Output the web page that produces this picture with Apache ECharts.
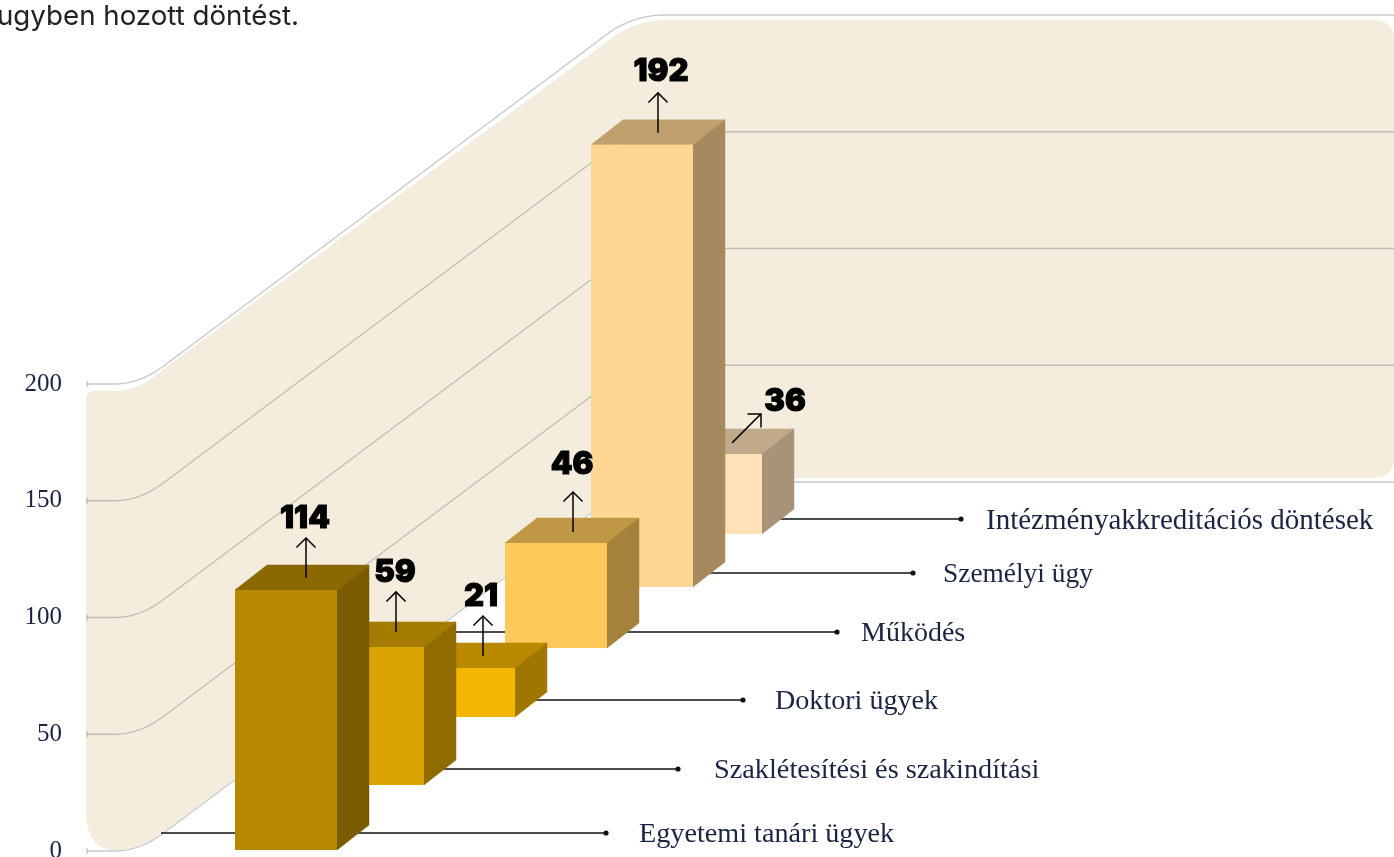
<!DOCTYPE html>
<html>
<head>
<meta charset="utf-8">
<title>Döntések</title>
<script src="https://cdn.jsdelivr.net/npm/echarts@6/dist/echarts.min.js"></script>
<style>
  html, body { margin: 0; padding: 0; background: #fff; overflow: hidden; }
  #chart { width: 1394px; height: 857px; }
</style>
</head>
<body>
<div id="chart"></div>
<script>
// data
var categories = ['Egyetemi tanári ügyek', 'Szaklétesítési és szakindítási', 'Doktori ügyek', 'Működés', 'Személyi ügy', 'Intézményakkreditációs döntések'];
var values = [114, 59, 21, 46, 192, 36];
var yTicks = [0, 50, 100, 150, 200];

// colours
var frontColors = ['#B78900', '#DBA400', '#F4B600', '#FEC85A', '#FFD693', '#FFE1B7'];
var topColors = ['#8C6800', '#A67C00', '#B98A00', '#C09744', '#C1A06F', '#C1AA8A'];
var sideColors = ['#7A5B00', '#8F6B00', '#9F7700', '#A5823B', '#A68A5F', '#A69378'];

// fake 3d layout
var barWidth = 102, depthX = 32, depthY = 25;
var barNudge = [0, 2, 8, 15, 16, 0];            // px, the depth steps are not even
var floorLift = [0.4, 28.3, 57.4, 86.9, 113.1, 135.8];  // floor height in axis units
var foreshorten = [0.977, 1.002, 1, 0.978, 0.986, 0.952];
var leaderEnd = [606, 678, 743, 837, 913, 961];
var leaderRise = [17, 16, 17, 16, 14, 15];
var nameX = [639, 714, 775, 861, 943, 986];
var nameSize = [28.2, 28.3, 28.1, 28, 27.4, 29];
var arrowVec = [[0, -40], [0, -40], [0, -40], [0, -40], [0, -40], [29, -29]];
var arrowX = [71, 74, 70, 68, 67, 72];
var arrowLift = [12, 15, 12, 11, 12, 11];
var labelShift = [[-1, -19], [-1, -19], [-2, -19], [-1, -27], [3, -21], [24, -12]];

var serif = '"Liberation Serif", serif';
var sans = 'Inter, "Open Sans", sans-serif';
var lineColor = 'rgba(130,130,130,0.45)';

function curve(p0, c, p1) {
  var pts = [];
  for (var k = 1; k <= 12; k++) {
    var t = k / 12;
    pts.push([
      (1 - t) * (1 - t) * p0[0] + 2 * t * (1 - t) * c[0] + t * t * p1[0],
      (1 - t) * (1 - t) * p0[1] + 2 * t * (1 - t) * c[1] + t * t * p1[1]
    ]);
  }
  return pts;
}

function renderWall() {
  var pts = [[86, 400]];
  pts = pts.concat(curve([86, 400], [86, 391], [96, 391]));
  pts.push([115, 391]);
  pts = pts.concat(curve([115, 391], [140, 391], [165, 368]));
  pts.push([612, 38]);
  pts = pts.concat(curve([612, 38], [635, 20], [668, 20]));
  pts.push([1372, 20]);
  pts = pts.concat(curve([1372, 20], [1394, 20], [1394, 40]));
  pts.push([1394, 458]);
  pts = pts.concat(curve([1394, 458], [1394, 478], [1372, 478]));
  pts.push([668, 478]);
  pts = pts.concat(curve([668, 478], [640, 478], [612, 496]));
  pts.push([165, 831]);
  pts = pts.concat(curve([165, 831], [140, 850], [115, 850]));
  pts = pts.concat(curve([115, 850], [88, 850], [86, 815]));
  return { type: 'polygon', shape: { points: pts }, style: { fill: '#F4EDDE' } };
}

function renderGridLine(params, api) {
  var y = api.coord([0, api.value(0)])[1];
  var pts = [[87, y], [115, y]];
  pts = pts.concat(curve([115, y], [140, y], [165, y - 19]));
  pts.push([610, y - 352]);
  pts = pts.concat(curve([610, y - 352], [635, y - 369], [665, y - 369]));
  pts.push([1394, y - 369]);
  return {
    type: 'group',
    children: [
      { type: 'polyline', shape: { points: pts }, style: { fill: 'none', stroke: lineColor, lineWidth: 1.3 } },
      { type: 'line', shape: { x1: 87, y1: y - 3, x2: 87, y2: y + 3 }, style: { stroke: lineColor, lineWidth: 1.3 } }
    ]
  };
}

function renderBar(params, api) {
  var i = api.value(0);
  var val = api.value(1);
  var base = api.coord([i, floorLift[i]]);
  var top = api.coord([i, floorLift[i] + val * foreshorten[i]]);
  var x0 = base[0] + barNudge[i] - barWidth / 2;
  var x1 = x0 + barWidth;
  var y0 = top[1];
  var y1 = base[1];

  var leaderY = Math.round(y1 - leaderRise[i]);
  var ex = leaderEnd[i];
  var ax = x0 + arrowX[i];
  var ay = y0 - arrowLift[i];
  var tx = ax + arrowVec[i][0];
  var ty = ay + arrowVec[i][1];
  // arrow head, two strokes at 45 degrees off the shaft
  var len = Math.sqrt(arrowVec[i][0] * arrowVec[i][0] + arrowVec[i][1] * arrowVec[i][1]);
  var ux = arrowVec[i][0] / len, uy = arrowVec[i][1] / len;
  var h = 13.5 * Math.SQRT1_2;
  var hx1 = tx - (ux - uy) * h, hy1 = ty - (uy + ux) * h;
  var hx2 = tx - (ux + uy) * h, hy2 = ty - (uy - ux) * h;

  return {
    type: 'group',
    children: [
      { type: 'line', shape: { x1: x0 - 74, y1: leaderY, x2: ex, y2: leaderY }, style: { stroke: '#111', lineWidth: 1.5 } },
      { type: 'circle', shape: { cx: ex, cy: leaderY, r: 2.6 }, style: { fill: '#111' } },
      {
        type: 'text',
        style: { text: categories[i], x: nameX[i], y: leaderY + 2, fill: '#1B2542', fontSize: nameSize[i], fontFamily: serif, align: 'left', verticalAlign: 'middle' }
      },
      { type: 'polygon', shape: { points: [[x0, y0], [x1, y0], [x1 + depthX, y0 - depthY], [x0 + depthX, y0 - depthY]] }, style: { fill: topColors[i], stroke: topColors[i], lineWidth: 0.5 } },
      { type: 'polygon', shape: { points: [[x1, y0], [x1 + depthX, y0 - depthY], [x1 + depthX, y1 - depthY], [x1, y1]] }, style: { fill: sideColors[i], stroke: sideColors[i], lineWidth: 0.5 } },
      { type: 'rect', shape: { x: x0, y: y0, width: barWidth, height: y1 - y0 }, style: { fill: frontColors[i] } },
      { type: 'polyline', shape: { points: [[ax, ay], [tx, ty]] }, style: { fill: 'none', stroke: '#000', lineWidth: 1.5 } },
      { type: 'polyline', shape: { points: [[hx1, hy1], [tx, ty], [hx2, hy2]] }, style: { fill: 'none', stroke: '#000', lineWidth: 1.5 } },
      {
        type: 'text',
        style: { text: String(val), x: tx + labelShift[i][0], y: ty + labelShift[i][1], fill: '#000', stroke: '#000', lineWidth: 1, fontSize: 31, fontWeight: 900, fontFamily: sans, align: 'center', verticalAlign: 'middle' }
      }
    ]
  };
}

// back bars get painted first
var barData = values.map(function (v, i) { return [i, v]; }).reverse();

var chart = echarts.init(document.getElementById('chart'));
chart.setOption({
  animation: false,
  grid: { left: 286, width: 425, top: 384, bottom: 6, outerBoundsMode: 'none' },
  xAxis: { type: 'category', data: categories, boundaryGap: false, show: false },
  yAxis: {
    type: 'value',
    min: 0,
    max: 200,
    interval: 50,
    offset: 200,
    axisLine: { show: false },
    axisTick: { show: false },
    splitLine: { show: false },
    axisLabel: { margin: 24, color: '#1B2542', fontSize: 25, fontFamily: serif }
  },
  graphic: [{
    type: 'text',
    style: { text: 'ugyben hozott döntést.', x: -3, y: 16.5, fill: '#222', fontSize: 27.7, fontFamily: sans, align: 'left', verticalAlign: 'middle' }
  }],
  series: [
    { type: 'custom', silent: true, clip: false, data: [0], renderItem: renderWall, z: 1 },
    { type: 'custom', silent: true, clip: false, data: yTicks, encode: { y: 0 }, renderItem: renderGridLine, z: 2 },
    { type: 'custom', silent: true, clip: false, data: barData, encode: { x: 0, y: 1 }, renderItem: renderBar, z: 3 }
  ]
});
</script>
</body>
</html>
